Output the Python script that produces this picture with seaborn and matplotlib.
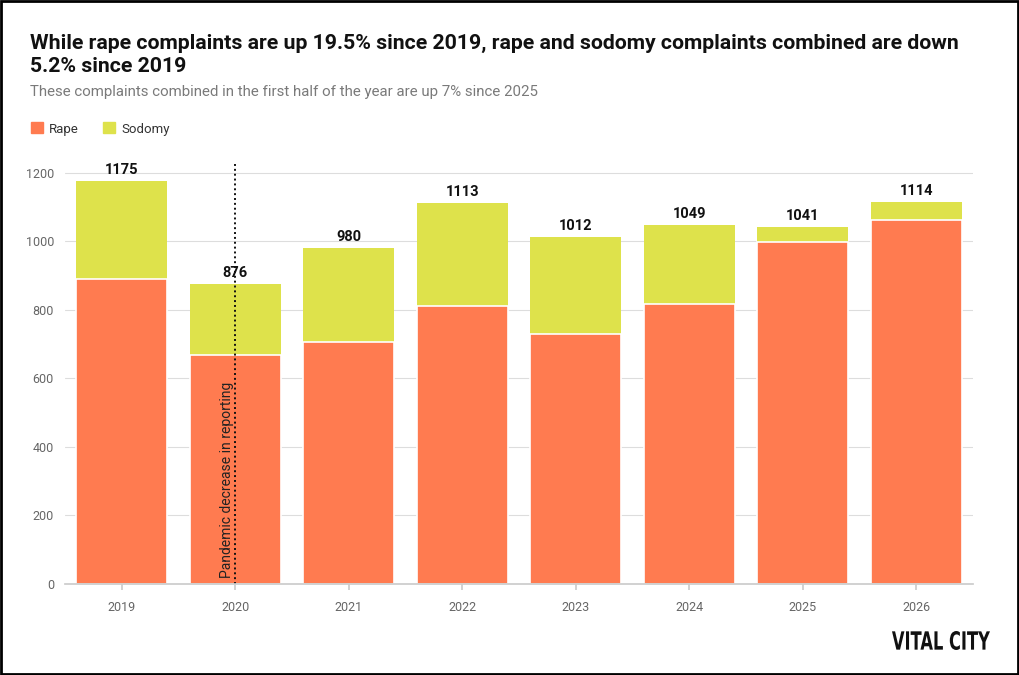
import matplotlib
matplotlib.use("Agg")
import matplotlib.pyplot as plt
import matplotlib.patches as mpatches
from matplotlib.textpath import TextPath
from matplotlib.font_manager import FontProperties
from matplotlib.transforms import Affine2D
import seaborn as sns
import pandas as pd

# data
years = ["2019", "2020", "2021", "2022", "2023", "2024", "2025", "2026"]
rape = [890, 669, 707, 812, 731, 817, 997, 1064]
sodomy = [285, 207, 273, 301, 281, 232, 44, 50]
y_ticks = [0, 200, 400, 600, 800, 1000, 1200]

RAPE_COL = "#FF7B50"
SOD_COL = "#DEE24B"

sns.set_theme(style="white")
plt.rcParams["font.family"] = ["Roboto", "DejaVu Sans"]

df = pd.DataFrame({"year": years, "rape": rape, "sodomy": sodomy})
df["total"] = df["rape"] + df["sodomy"]

W, H = 1020, 675
fig = plt.figure(figsize=(W / 100, H / 100), dpi=100)
ax = fig.add_axes([65 / W, 1 - 584 / H, (973 - 65) / W, (584 - 163) / H])

# total bar first (sodomy colour), rape drawn over it
sns.barplot(data=df, x="year", y="total", color=SOD_COL, width=0.8,
            saturation=1, ax=ax, edgecolor="none")
sns.barplot(data=df, x="year", y="rape", color=RAPE_COL, width=0.8,
            saturation=1, ax=ax, edgecolor="white", linewidth=1.2)

ax.set_xlim(-0.5, len(years) - 0.5)
ax.set_ylim(0, 1229)
ax.set_yticks(y_ticks)
ax.set_xlabel("")
ax.set_ylabel("")
ax.yaxis.grid(True, color="#dddddd", linewidth=0.8)
ax.set_axisbelow(True)
for s in ["top", "right", "left"]:
    ax.spines[s].set_visible(False)
ax.spines["bottom"].set_color("#cccccc")
ax.tick_params(axis="y", length=0, labelsize=9, labelcolor="#666666", pad=8)
ax.tick_params(axis="x", length=4, color="#cccccc", labelsize=9,
               labelcolor="#666666", pad=8, bottom=True)

for i, tot in enumerate(df["total"]):
    ax.text(i, tot + 12, str(tot), ha="center", va="bottom",
            fontsize=10.5, fontweight="bold", color="#111111")

# pandemic annotation
ax.axvline(1, ymin=0, ymax=1, color="#111111", linestyle=(0, (1, 1.5)),
           linewidth=1.4, clip_on=False)
ax.text(0.93, 18, "Pandemic decrease in reporting", rotation=90,
        ha="center", va="bottom", fontsize=10.0, color="#222222")

# titles
fig.text(30 / W, 1 - 43 / H,
         "While rape complaints are up 19.5% since 2019, rape and sodomy complaints combined are down",
         fontsize=15.3, fontweight="bold", color="#111111", va="center")
fig.text(30 / W, 1 - 66 / H, "5.2% since 2019",
         fontsize=15.3, fontweight="bold", color="#111111", va="center")
fig.text(30 / W, 1 - 92 / H,
         "These complaints combined in the first half of the year are up 7% since 2025",
         fontsize=10.8, color="#7a7a7a", va="center")

# legend
handles = [mpatches.Patch(color=RAPE_COL, label="Rape"),
           mpatches.Patch(color=SOD_COL, label="Sodomy")]
fig.legend(handles=handles, loc="center left", bbox_to_anchor=(19 / W, 1 - 129 / H),
           ncol=2, frameon=False, fontsize=9.5, handlelength=0.9, handleheight=0.9,
           handletextpad=0.5, columnspacing=1.8, labelcolor="#333333")

# logo: bold lettering squeezed horizontally to look condensed
tp = TextPath((0, 0), "VITAL CITY", size=22,
              prop=FontProperties(family="DejaVu Sans", weight="bold"))
bb = tp.get_extents()
logo_tr = (Affine2D().translate(-bb.x0, -bb.y0)
           .scale(98 / bb.width / W, 19 / bb.height / H)
           .translate(892 / W, (H - 650) / H) + fig.transFigure)
fig.patches.append(mpatches.PathPatch(tp, transform=logo_tr,
                                      facecolor="#111111", edgecolor="none"))

# frame around figure
fig.patches.append(mpatches.Rectangle((0.001, 0.002), 0.997, 0.996,
                                      transform=fig.transFigure, fill=False,
                                      edgecolor="black", linewidth=2))

fig.savefig("out.png", dpi=100)
